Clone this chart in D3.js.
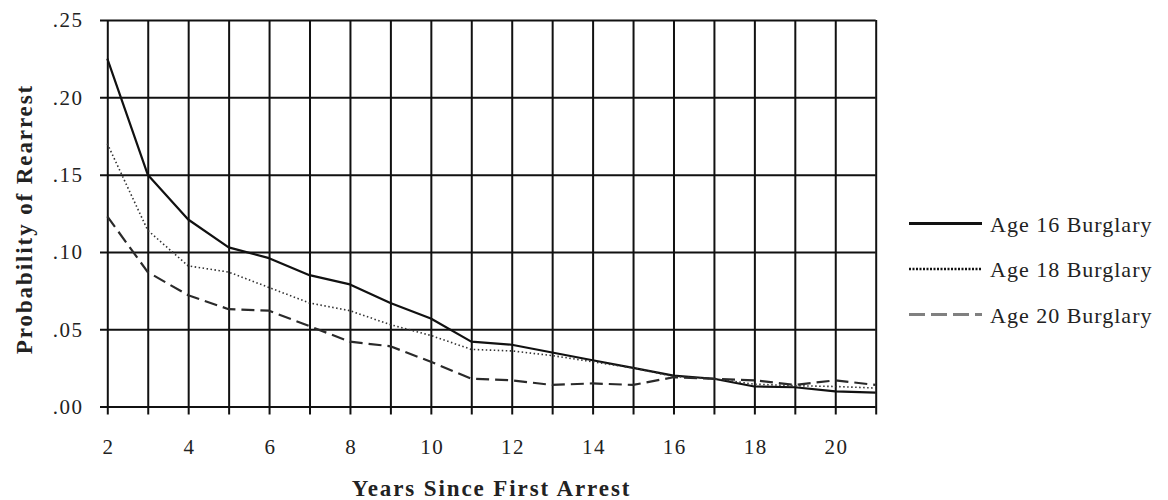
<!DOCTYPE html>
<html>
<head>
<meta charset="utf-8">
<script src="https://cdn.jsdelivr.net/npm/d3@7"></script>
<style>
  body { margin: 0; background: #fff; }
  svg { display: block; font-family: "Liberation Serif", "DejaVu Serif", serif; }
  .tick text { fill: #222; }
</style>
</head>
<body>
<svg id="chart" width="1168" height="500"></svg>
<script>
/* data */
var years = [2,3,4,5,6,7,8,9,10,11,12,13,14,15,16,17,18,19,20,21];
var age16 = [.225,.150,.121,.103,.096,.085,.079,.067,.057,.042,.040,.035,.030,.025,.020,.018,.013,.0125,.0098,.009];
var age18 = [.170,.114,.091,.087,.077,.067,.062,.053,.046,.037,.036,.033,.029,.025,.0195,.018,.0145,.0135,.013,.012];
var age20 = [.123,.087,.072,.063,.062,.052,.042,.039,.029,.018,.017,.014,.015,.014,.019,.018,.017,.014,.017,.014];
var xTicks = [2,4,6,8,10,12,14,16,18,20];
var yTicks = [0,.05,.10,.15,.20,.25];
var seriesNames = ["Age 16 Burglary","Age 18 Burglary","Age 20 Burglary"];

var svg = d3.select("#chart");

/* plot box (plotTop, not top: window.top is taken) */
var plotLeft = 107.3, plotRight = 875.7, plotTop = 20, plotBottom = 406.6;

var x = d3.scaleLinear().domain([2,21]).range([plotLeft, plotRight]);
var y = d3.scaleLinear().domain([0,.25]).range([plotBottom, plotTop]);

var fmtY = function(d){ return d3.format(".2f")(d).replace(/^0/, ""); };

/* vertical grid: one line per year, with a small stub below the box */
var gx = svg.append("g")
    .attr("transform", "translate(0," + (plotBottom + 8) + ")")
    .call(d3.axisTop(x).tickValues(years).tickSize(plotBottom + 8 - plotTop).tickSizeOuter(0).tickFormat(""));
gx.select(".domain").remove();
gx.selectAll(".tick line").attr("stroke", "#111").attr("stroke-width", 2);

/* horizontal grid + y labels */
var gy = svg.append("g")
    .attr("transform", "translate(" + plotRight + ",0)")
    .call(d3.axisLeft(y).tickValues(yTicks).tickSize(plotRight - 100).tickPadding(16.5).tickFormat(fmtY));
gy.select(".domain").remove();
gy.selectAll(".tick line").attr("stroke", "#111").attr("stroke-width", 2);
gy.selectAll(".tick text")
    .attr("font-size", 21)
    .attr("letter-spacing", 1.5)
    .attr("font-family", "Liberation Serif, serif");

/* x labels */
var xl = svg.append("g")
    .attr("transform", "translate(0," + plotBottom + ")")
    .call(d3.axisBottom(x).tickValues(xTicks).tickSize(0).tickPadding(32.5).tickFormat(d3.format("d")));
xl.select(".domain").remove();
xl.selectAll(".tick text")
    .attr("font-size", 21)
    .attr("letter-spacing", 1.5)
    .attr("dx", 0.8)
    .attr("font-family", "Liberation Serif, serif");

/* axis titles */
svg.append("text")
    .attr("x", 491.5).attr("y", 496)
    .attr("text-anchor", "middle")
    .attr("font-size", 23).attr("font-weight", "bold")
    .attr("letter-spacing", 1.9)
    .attr("fill", "#222")
    .text("Years Since First Arrest");

svg.append("text")
    .attr("transform", "translate(32,219) rotate(-90)")
    .attr("text-anchor", "middle")
    .attr("font-size", 23).attr("font-weight", "bold")
    .attr("letter-spacing", 1.9)
    .attr("fill", "#222")
    .text("Probability of Rearrest");

/* lines */
var styles = [
  { data: age16, stroke: "#111", width: 2.2, dash: null, legStroke: "#111", legWidth: 3, legDash: null },
  { data: age18, stroke: "#333", width: 1.6, dash: "1.5,2.5", legStroke: "#111", legWidth: 2.5, legDash: "2,1.5" },
  { data: age20, stroke: "#2a2a2a", width: 2.2, dash: "13,6", legStroke: "#808080", legWidth: 3, legDash: "16,6" }
];

var line = d3.line()
    .x(function(d){ return x(d[0]); })
    .y(function(d){ return y(d[1]); });

svg.append("g").selectAll("path")
  .data(styles)
  .enter().append("path")
    .attr("fill", "none")
    .attr("stroke", function(s){ return s.stroke; })
    .attr("stroke-width", function(s){ return s.width; })
    .attr("stroke-dasharray", function(s){ return s.dash; })
    .attr("stroke-linejoin", "round")
    .attr("d", function(s){ return line(years.map(function(yr,i){ return [yr, s.data[i]]; })); });

/* legend */
var legY = [223.5, 269, 314.5];
var leg = svg.append("g").selectAll("g")
  .data(seriesNames)
  .enter().append("g")
    .attr("transform", function(d,i){ return "translate(909," + legY[i] + ")"; });

leg.append("line")
    .attr("x1", 0).attr("x2", 73)
    .attr("stroke", function(d,i){ return styles[i].legStroke; })
    .attr("stroke-width", function(d,i){ return styles[i].legWidth; })
    .attr("stroke-dasharray", function(d,i){ return styles[i].legDash; });

leg.append("text")
    .attr("x", 81).attr("y", 8)
    .attr("font-size", 22)
    .attr("letter-spacing", 1)
    .attr("fill", "#222")
    .text(function(d){ return d; });
</script>
</body>
</html>
